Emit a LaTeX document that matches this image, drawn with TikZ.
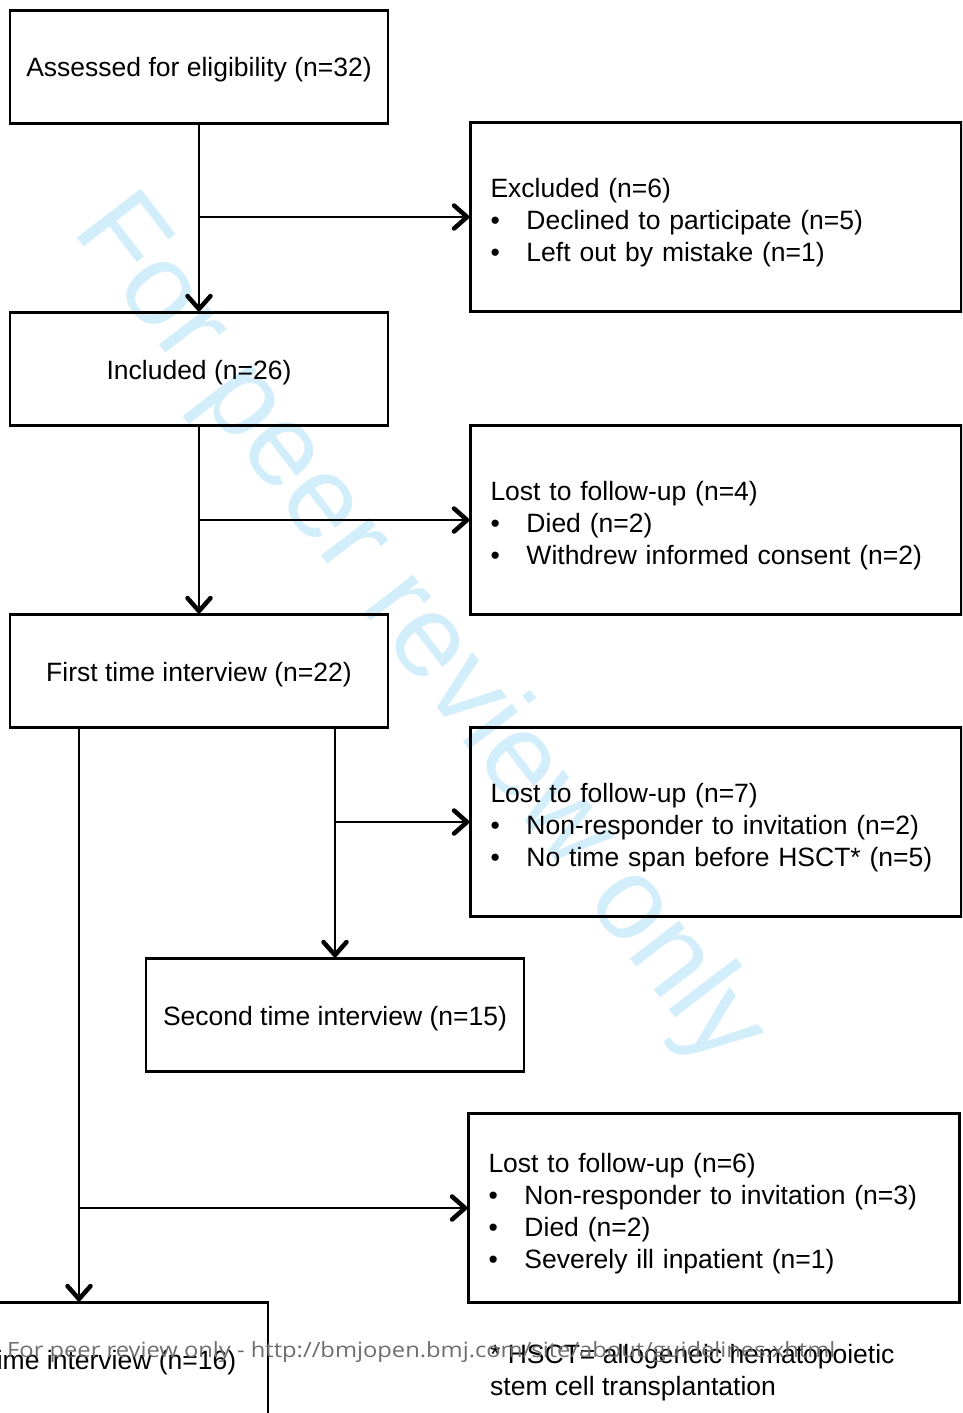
\documentclass[tikz,border=0pt]{standalone}
\usepackage{fontspec}
\setmainfont{Liberation Sans}
\newfontfamily\footerfont{Open Sans}
\usepackage{tikz}
\usetikzlibrary{arrows.meta,positioning}
\definecolor{wmblue}{HTML}{D3EEFB}
\definecolor{footgray}{HTML}{6E6E6E}
\newcommand{\bitem}[1]{\makebox[36pt][l]{\textbullet}#1}

\begin{document}
\begin{tikzpicture}[x=1pt,y=-1pt,font=\fontsize{26.5}{32}\selectfont,
  stage/.style={draw,line width=2.4pt,minimum width=378pt,minimum height=113pt,inner sep=0pt,align=center,text height=20pt,text depth=0pt},
  lost/.style={draw,line width=2.4pt,minimum width=491pt,minimum height=189pt,inner xsep=20pt,inner ysep=0pt,text width=451pt,align=left,text height=29.6pt},
  arr/.style={-{Straight Barb[length=13pt,width=23pt,line width=4.5pt,round]},line width=2.3pt}]
\useasboundingbox (0,0) rectangle (962,1413);
\clip (0,0) rectangle (962,1413);
% watermark
\node[anchor=base west,rotate=-52.5,inner sep=0pt,text=wmblue,font=\fontsize{117}{117}\selectfont] (wm) at (71,230) {For peer review only};
% main column
\node[stage] (assess) at (199,67) {Assessed for eligibility (n=32)};
\node[stage] (incl) at (199,369) {Included (n=26)};
\node[stage] (first) at (199,671) {First time interview (n=22)};
\node[stage] (second) at (335,1015) {Second time interview (n=15)};
\node[stage] (third) at (79,1359) {Third time interview (n=16)};
% side boxes
\node[lost] (excl) at (716,217) {Excluded (n=6)\\ \bitem{Declined to participate (n=5)}\\ \bitem{Left out by mistake (n=1)}};
\node[lost] (lost1) at (716,520) {Lost to follow-up (n=4)\\ \bitem{Died (n=2)}\\ \bitem{Withdrew informed consent (n=2)}};
\node[lost] (lost2) at (716,822) {Lost to follow-up (n=7)\\ \bitem{Non-responder to invitation (n=2)}\\ \bitem{No time span before HSCT* (n=5)}};
\node[lost] (lost3) at (714,1208) {Lost to follow-up (n=6)\\ \bitem{Non-responder to invitation (n=3)}\\ \bitem{Died (n=2)}\\ \bitem{Severely ill inpatient (n=1)}};
% branch points
\coordinate (j1) at (assess.south |- excl.west);
\coordinate (j2) at (incl.south |- lost1.west);
\coordinate (s2) at (second.north |- first.south);
\coordinate (j3) at (s2 |- lost2.west);
\coordinate (s3) at (third.north |- first.south);
\coordinate (j4) at (s3 |- lost3.west);
% connectors
\draw[arr] (assess.south) -- (incl.north);
\draw[arr] (j1) -- (excl.west);
\draw[arr] (incl.south) -- (first.north);
\draw[arr] (j2) -- (lost1.west);
\draw[arr] (s2) -- (second.north);
\draw[arr] (j3) -- (lost2.west);
\draw[arr] (s3) -- (third.north);
\draw[arr] (j4) -- (lost3.west);
% footnote
\node[anchor=north west,inner sep=0pt,align=left] (note) at (490,1344) {* HSCT= allogeneic hematopoietic\\stem cell transplantation};
% footer
\node[anchor=base west,inner sep=0pt,text=footgray,font=\footerfont\fontsize{21}{21}\selectfont] (foot) at (7,1357) {\scalebox{1.13}[1]{For peer review only - http://bmjopen.bmj.com/site/about/guidelines.xhtml}};
\end{tikzpicture}
\end{document}
